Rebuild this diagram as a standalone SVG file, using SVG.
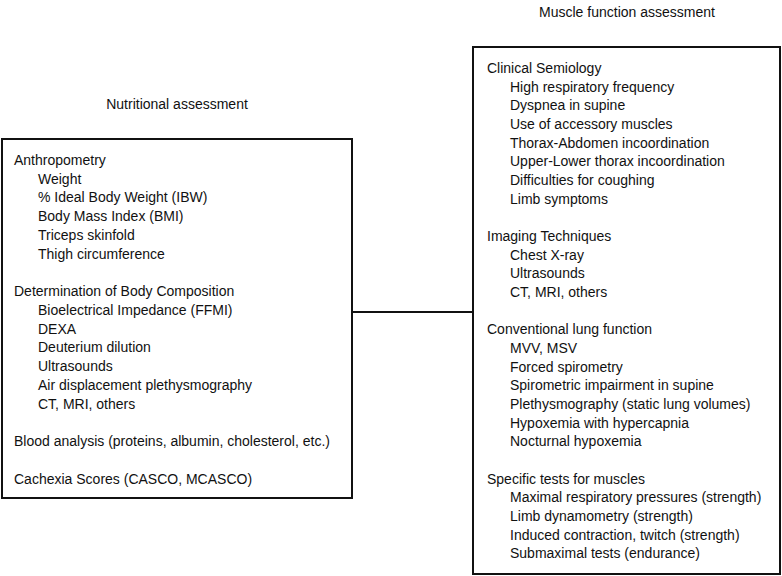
<svg xmlns="http://www.w3.org/2000/svg" width="782" height="576" viewBox="0 0 782 576">
<style>
text{font-family:"Liberation Sans",Arial,sans-serif;font-size:14px;fill:#111}
.box{fill:#fff;stroke:#111;stroke-width:2}
.ln{stroke:#111;stroke-width:2;fill:none}
</style>
<rect width="782" height="576" fill="#fff"/>
<g id="connectors">
<line class="ln" x1="352" y1="312" x2="473" y2="312"/>
</g>
<g id="nutritional">
<text x="177" y="109" text-anchor="middle">Nutritional assessment</text>
<rect class="box" x="2" y="139" width="350" height="359"/>
<text x="14" y="165">Anthropometry</text>
<text x="38" y="184">Weight</text>
<text x="38" y="202">% Ideal Body Weight (IBW)</text>
<text x="38" y="221">Body Mass Index (BMI)</text>
<text x="38" y="240">Triceps skinfold</text>
<text x="38" y="259">Thigh circumference</text>
<text x="14" y="296">Determination of Body Composition</text>
<text x="38" y="315">Bioelectrical Impedance (FFMI)</text>
<text x="38" y="334">DEXA</text>
<text x="38" y="352">Deuterium dilution</text>
<text x="38" y="371">Ultrasounds</text>
<text x="38" y="390">Air displacement plethysmography</text>
<text x="38" y="409">CT, MRI, others</text>
<text x="14" y="446">Blood analysis (proteins, albumin, cholesterol, etc.)</text>
<text x="14" y="484">Cachexia Scores (CASCO, MCASCO)</text>
</g>
<g id="muscle">
<text x="627" y="17" text-anchor="middle">Muscle function assessment</text>
<rect class="box" x="473" y="47" width="307" height="527"/>
<text x="487" y="73">Clinical Semiology</text>
<text x="510" y="92">High respiratory frequency</text>
<text x="510" y="110">Dyspnea in supine</text>
<text x="510" y="129">Use of accessory muscles</text>
<text x="510" y="148">Thorax-Abdomen incoordination</text>
<text x="510" y="166">Upper-Lower thorax incoordination</text>
<text x="510" y="185">Difficulties for coughing</text>
<text x="510" y="204">Limb symptoms</text>
<text x="487" y="241">Imaging Techniques</text>
<text x="510" y="260">Chest X-ray</text>
<text x="510" y="278">Ultrasounds</text>
<text x="510" y="297">CT, MRI, others</text>
<text x="487" y="334">Conventional lung function</text>
<text x="510" y="353">MVV, MSV</text>
<text x="510" y="372">Forced spirometry</text>
<text x="510" y="390">Spirometric impairment in supine</text>
<text x="510" y="409">Plethysmography (static lung volumes)</text>
<text x="510" y="428">Hypoxemia with hypercapnia</text>
<text x="510" y="446">Nocturnal hypoxemia</text>
<text x="487" y="484">Specific tests for muscles</text>
<text x="510" y="502">Maximal respiratory pressures (strength)</text>
<text x="510" y="521">Limb dynamometry (strength)</text>
<text x="510" y="540">Induced contraction, twitch (strength)</text>
<text x="510" y="558">Submaximal tests (endurance)</text>
</g>
</svg>
